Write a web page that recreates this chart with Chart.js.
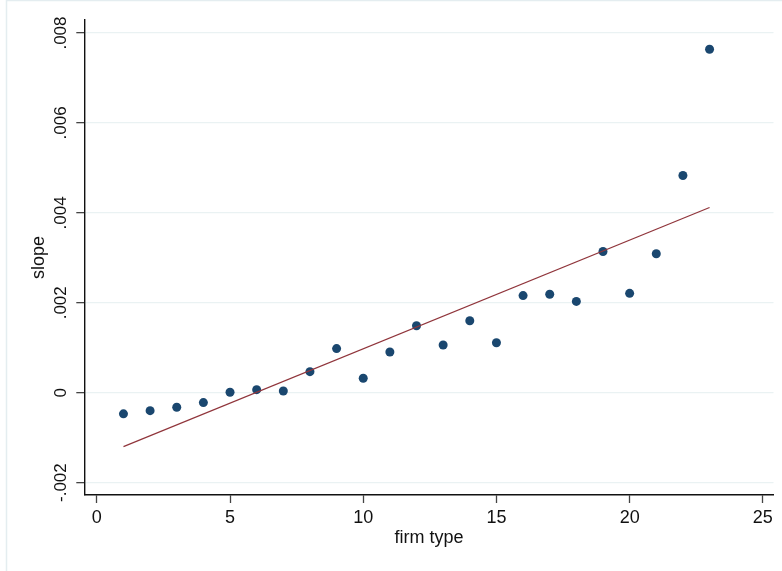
<!DOCTYPE html>
<html>
<head>
<meta charset="utf-8">
<title>slope by firm type</title>
<script src="https://cdn.jsdelivr.net/npm/chart.js@4.4.1/dist/chart.umd.min.js"></script>
<style>
  body { margin: 0; background: #fff; }
  #wrap { position: relative; width: 782px; height: 571px; }
</style>
</head>
<body>
<div id="wrap"><canvas id="slopeChart" width="782" height="571"></canvas></div>
<script>
// firm type 1..23 and estimated slope for each
const firmTypes = [1, 2, 3, 4, 5, 6, 7, 8, 9, 10, 11, 12, 13, 14, 15, 16, 17, 18, 19, 20, 21, 22, 23];
const slopes = [
    -0.00047, -0.00040, -0.000325, -0.00022, 0.00001, 0.000067, 0.000038,
    0.000467, 0.00098, 0.00032, 0.000905, 0.00149, 0.00106, 0.0016,
    0.00111, 0.00216, 0.00219, 0.00203, 0.00314, 0.00221, 0.00309,
    0.00483, 0.00764
];

// linear fit, end points
const fitX = [1, 23];
const fitY = [-0.0012, 0.00412];

const xTicks = [0, 5, 10, 15, 20, 25];
const yTicks = [-0.002, 0, 0.002, 0.004, 0.006, 0.008];

const FONT = "'Liberation Sans', Arial, sans-serif";

function fmtY(v) {
    if (Math.abs(v) < 1e-12) return '0';
    return v.toFixed(3).replace('0.', '.');
}

// рамка и подписи оси Y (повернутые)
const stataPlugin = {
    id: 'stata',
    beforeDraw(chart) {
        const ctx = chart.ctx;
        ctx.save();
        ctx.fillStyle = '#fff';
        ctx.fillRect(0, 0, chart.width, chart.height);
        ctx.strokeStyle = '#e4edf0';
        ctx.lineWidth = 1.5;
        ctx.beginPath();
        ctx.moveTo(6.5, chart.height);
        ctx.lineTo(6.5, 0.5);
        ctx.lineTo(chart.width, 0.5);
        ctx.stroke();
        ctx.restore();
    },
    afterDraw(chart) {
        const ctx = chart.ctx;
        const yScale = chart.scales.y;
        ctx.save();
        ctx.fillStyle = '#111';
        ctx.font = '17px ' + FONT;
        ctx.textAlign = 'center';
        ctx.textBaseline = 'middle';
        yTicks.forEach(v => {
            const py = yScale.getPixelForValue(v);
            ctx.save();
            ctx.translate(61, py);
            ctx.rotate(-Math.PI / 2);
            ctx.fillText(fmtY(v), 0, 0);
            ctx.restore();
        });
        ctx.restore();
    }
};

const ctx = document.getElementById('slopeChart').getContext('2d');

new Chart(ctx, {
    type: 'scatter',
    data: {
        datasets: [
            {
                label: 'Fitted values',
                data: fitX.map((x, i) => ({ x: x, y: fitY[i] })),
                showLine: true,
                borderColor: '#90353b',
                borderWidth: 1.2,
                pointRadius: 0,
                fill: false
            },
            {
                label: 'slope',
                data: firmTypes.map((x, i) => ({ x: x, y: slopes[i] })),
                backgroundColor: '#1a476f',
                borderColor: '#1a476f',
                pointRadius: 4.5,
                borderWidth: 0
            }
        ]
    },
    options: {
        responsive: false,
        animation: false,
        layout: { padding: { left: 0, top: 20, right: 8.5, bottom: 0 } },
        plugins: {
            legend: { display: false },
            tooltip: { enabled: false }
        },
        scales: {
            x: {
                type: 'linear',
                min: -0.47,
                max: 25.4,
                afterBuildTicks: scale => { scale.ticks = xTicks.map(v => ({ value: v })); },
                afterFit: scale => { scale.height = 76; },
                border: { display: true, color: '#111', width: 1.4 },
                grid: { drawOnChartArea: false, drawTicks: true, tickLength: 8, tickColor: '#444', tickWidth: 1.3 },
                ticks: {
                    autoSkip: false,
                    maxRotation: 0,
                    padding: 4,
                    color: '#111',
                    font: { family: FONT, size: 18 },
                    callback: v => String(v)
                },
                title: {
                    display: true,
                    text: 'firm type',
                    color: '#111',
                    font: { family: FONT, size: 18 },
                    padding: { top: 0, bottom: 22 }
                }
            },
            y: {
                type: 'linear',
                min: -0.002276,
                max: 0.00829,
                afterBuildTicks: scale => { scale.ticks = yTicks.map(v => ({ value: v })); },
                afterFit: scale => { scale.width = 84.3; },
                border: { display: true, color: '#111', width: 1.4 },
                grid: { color: '#eaf2f3', lineWidth: 1.3, drawTicks: true, tickLength: 8, tickColor: '#444', tickWidth: 1.3 },
                ticks: { display: false },
                title: {
                    display: true,
                    text: 'slope',
                    color: '#111',
                    font: { family: FONT, size: 18 },
                    padding: { top: 28, bottom: 0 }
                }
            }
        }
    },
    plugins: [stataPlugin]
});
</script>
</body>
</html>
